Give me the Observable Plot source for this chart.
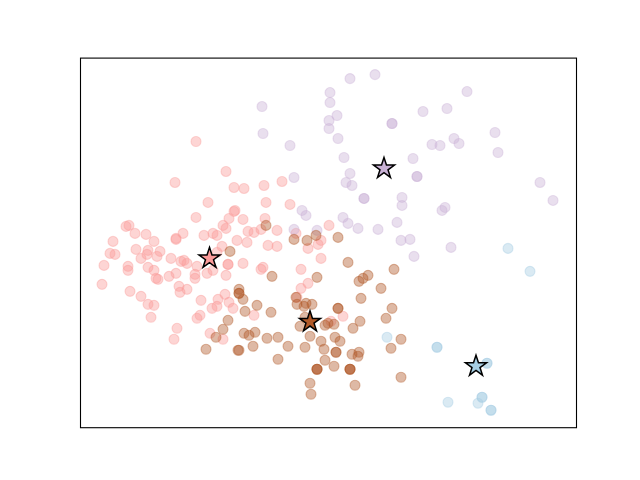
<!DOCTYPE html>
<html>
<head>
<meta charset="utf-8">
<style>html,body{margin:0;padding:0;background:#fff}svg{display:block}</style>
<script src="https://cdn.jsdelivr.net/npm/d3@7"></script>
<script src="https://cdn.jsdelivr.net/npm/@observablehq/plot@0.6"></script>
</head>
<body>
<script>
const pinkPoints = [[116,287],[146,257],[95,246],[154,241],[164,240],[128,226],[155,218],[154,217],[116,211],[149,210],[163,209],[143,203],[146,200],[168,197],[49,203],[46,202],[55,195],[66,194],[103,195],[96,190],[96,189],[124,193],[133,195],[137,193],[157,188],[167,186],[33,187],[74,187],[30,175],[35,174],[56,179],[68,178],[67,174],[80,177],[77,172],[61,170],[142,182],[91,170],[101,167],[104,168],[107,165],[137,176],[117,162],[24,163],[48,162],[48,158],[68,161],[74,158],[76,150],[78,149],[89,152],[96,155],[115,154],[115,150],[127,155],[133,158],[148,164],[148,164],[146,153],[163,165],[22,144],[50,137],[61,132],[68,124],[74,123],[71,111],[99,142],[107,139],[100,136],[121,128],[145,134],[138,129],[149,126],[132,120],[137,122],[153,120],[120,113],[117,110],[97,100],[94,89],[130,95],[143,89],[184,243],[202,247],[186,226],[210,224],[185,210],[174,196],[181,199],[197,198],[188,183],[197,182],[249,203],[216,195],[241,188],[238,184],[228,180],[241,170],[183,161],[181,159],[221,159],[228,145],[221,140],[217,131],[174,113],[263,112],[251,107]];
const lavenderPoints = [[295,354],[270,350],[250,336],[250,326],[182,322],[257,313],[249,308],[249,300],[312,305],[312,305],[183,295],[258,290],[210,283],[264,271],[333,270],[214,251],[270,255],[266,246],[272,243],[387,337],[367,320],[343,317],[415,296],[374,290],[379,285],[352,284],[360,283],[418,276],[337,252],[337,252],[460,246],[473,228],[322,231],[322,223],[365,221],[362,218],[284,230],[284,230],[222,218],[226,213],[214,199],[237,198],[263,211],[268,205],[278,200],[298,199],[317,206],[321,188],[330,189],[334,172],[371,181]];
const bluePoints = [[428,180],[450,157],[357,81],[357,81],[307,91],[407,65],[407,65],[368,26],[398,25],[402,31],[402,31],[411,18],[411,18]];
const brownPoints = [[150,177],[159,139],[159,135],[159,135],[163,129],[165,117],[148,108],[143,99],[136,91],[126,79],[158,78],[159,78],[164,95],[169,93],[186,203],[214,189],[227,188],[236,193],[258,191],[268,166],[288,153],[279,147],[283,150],[314,159],[301,140],[281,130],[192,152],[237,151],[216,131],[312,120],[306,110],[280,107],[273,100],[258,120],[258,120],[232,124],[226,125],[224,122],[217,124],[177,123],[191,116],[254,104],[248,105],[245,103],[220,102],[225,111],[175,96],[187,90],[198,91],[208,82],[173,82],[225,81],[230,92],[241,87],[260,87],[255,91],[244,79],[256,76],[256,76],[272,74],[279,76],[278,72],[245,68],[254,62],[237,59],[237,59],[237,59],[270,59],[270,59],[270,59],[198,69],[230,45],[231,34],[275,43],[311,80],[321,89],[321,51]];
const centerPoints = [[129.5,170],[230,106.5],[304,260],[396,62]];
const centerColors = ["#fb9a99","#b15928","#cab2d6","#a6cee3"];

const cloud = (data, color) => Plot.dot(data, {
  x: d => d[0], y: d => d[1], r: 5,
  fill: color, fillOpacity: 0.42,
  stroke: color, strokeOpacity: 0.4, strokeWidth: 1.1
});

const chart = Plot.plot({
  width: 640,
  height: 480,
  marginLeft: 80,
  marginRight: 64,
  marginTop: 57.6,
  marginBottom: 52.8,
  x: {domain: [0.5, 496.5], axis: null},
  y: {domain: [0.5, 370.5], axis: null},
  marks: [
    cloud(pinkPoints, centerColors[0]),
    cloud(lavenderPoints, centerColors[2]),
    cloud(bluePoints, centerColors[3]),
    cloud(brownPoints, centerColors[1]),
    Plot.dot(centerPoints, {
      x: d => d[0], y: d => d[1], r: 6.6, symbol: "star",
      fill: (d, i) => centerColors[i], stroke: "#000", strokeWidth: 1.5
    }),
    Plot.frame({stroke: "#000", strokeWidth: 1.1})
  ]
});
chart.style.background = "#fff";
document.body.appendChild(chart);
</script>
</body>
</html>
